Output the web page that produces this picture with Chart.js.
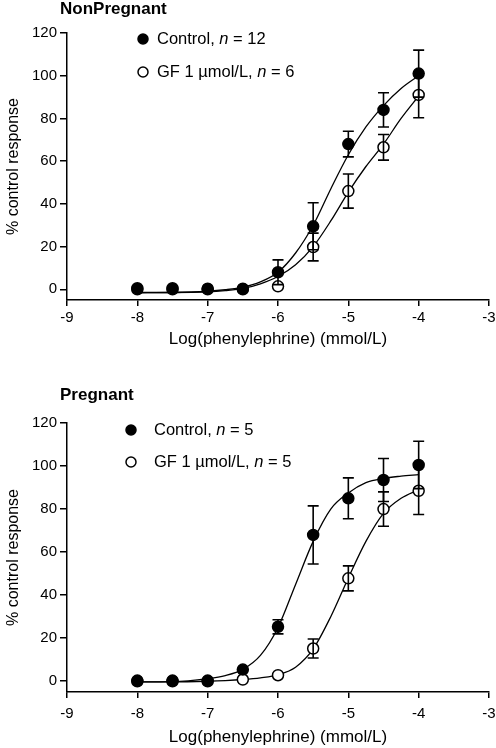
<!DOCTYPE html>
<html>
<head>
<meta charset="utf-8">
<script src="https://cdn.jsdelivr.net/npm/chart.js@4/dist/chart.umd.min.js"></script>
<style>
  body { margin: 0; background: #fff; }
  .box { position: absolute; left: 0; width: 496px; height: 374px; }
</style>
</head>
<body>
<div class="box" style="top:0"><canvas id="top" width="496" height="374"></canvas></div>
<div class="box" style="top:374px"><canvas id="bottom" width="496" height="374"></canvas></div>
<script>
const FONT = '"Liberation Sans", Arial, sans-serif'

// log [phenylephrine] at which responses were measured
const doses = [-8, -7.5, -7, -6.5, -6, -5.5, -5, -4.5, -4]
const yTicks = [0, 20, 40, 60, 80, 100, 120]

// NonPregnant
const npControl    = [0.5, 0.5, 0.3, 0.3, 8, 29.5, 68, 84, 101]
const npControlErr = [0, 0, 0, 0, 5.8, 11, 6, 8, 11]
const npGF         = [0, 0, 0, 0, 1.4, 19.8, 46, 66.5, 91]
const npGFErr      = [0, 0, 0, 0, 0, 6.5, 8, 6, 10.7]

// Pregnant
const pControl    = [0.3, 0.3, 0.3, 5.4, 25.3, 68, 85, 93.5, 100.5]
const pControlErr = [0, 0, 0, 0, 3.3, 13.5, 9.5, 10, 11]
const pGF         = [0, 0, 0, 0.8, 2.8, 15.2, 47.8, 80, 88.5]
const pGFErr      = [0, 0, 0, 0, 0, 4.4, 5.8, 8, 11]

// fitted curves
const fitX         = [-8, -7.5, -7, -6.75, -6.5, -6.25, -6, -5.75, -5.5, -5.25, -5, -4.75, -4.5, -4.25, -4]
const npControlFit = [-1.6, -1.5, -0.9, -0.2, 1, 3.5, 8, 17, 30, 47, 63, 76, 86, 94, 100]
const npGFFit      = [-1.5, -1.5, -1.2, -0.6, 0.4, 2.6, 6, 11.5, 20, 32, 45.5, 57.5, 68, 80, 90.5]
const pControlFit  = [-0.3, -0.2, 1.2, 2.6, 5.5, 12, 25, 45, 65, 80, 87.5, 92.3, 94.3, 95.3, 96]
const pGFFit       = [-0.3, -0.3, 0, 0.3, 0.8, 1.6, 3, 6.5, 15, 30, 48, 65, 78, 85, 89]

const pts = (xs, ys) => xs.map((x, i) => ({ x: x, y: ys[i] }))

const errorBars = {
  id: 'errorBars',
  afterDatasetsDraw(chart, args, opts) {
    const ctx = chart.ctx
    const xs = chart.scales.x, ys = chart.scales.y
    ctx.save()
    ctx.strokeStyle = '#000'
    ctx.lineWidth = 1.6
    for (const s of opts.sets) {
      s.vals.forEach((v, i) => {
        const e = s.err[i]
        if (!e) return
        const px = xs.getPixelForValue(doses[i])
        const hi = ys.getPixelForValue(v + e)
        const lo = ys.getPixelForValue(v - e)
        ctx.beginPath()
        ctx.moveTo(px, hi); ctx.lineTo(px, lo)
        ctx.moveTo(px - 5.5, hi); ctx.lineTo(px + 5.5, hi)
        ctx.moveTo(px - 5.5, lo); ctx.lineTo(px + 5.5, lo)
        ctx.stroke()
      })
    }
    ctx.restore()
  }
}

const labels = {
  id: 'labels',
  afterDraw(chart, args, o) {
    const ctx = chart.ctx
    ctx.save()
    ctx.fillStyle = '#000'
    ctx.textBaseline = 'middle'
    ctx.font = 'bold 17px ' + FONT
    ctx.fillText(o.title, o.titleX, o.titleY)
    o.legend.forEach(item => {
      ctx.beginPath()
      ctx.arc(o.markX, item.y, 5, 0, Math.PI * 2)
      ctx.fillStyle = item.filled ? '#000' : '#fff'
      ctx.fill()
      ctx.lineWidth = 1.5
      ctx.strokeStyle = '#000'
      ctx.stroke()
      ctx.fillStyle = '#000'
      let x = o.textX
      ctx.font = '16.5px ' + FONT
      ctx.fillText(item.pre, x, item.y)
      x += ctx.measureText(item.pre).width
      ctx.font = 'italic 16.5px ' + FONT
      ctx.fillText('n', x, item.y)
      x += ctx.measureText('n').width
      ctx.font = '16.5px ' + FONT
      ctx.fillText(' = ' + item.n, x, item.y)
    })
    ctx.restore()
  }
}

function makeChart(id, ctrl, ctrlErr, gf, gfErr, ctrlFit, gfFit, lab, padTop, padBottom, xAxisH, tickPad) {
  const marker = (data, filled) => ({
    type: 'scatter',
    data: pts(doses, data),
    pointRadius: 5.5,
    pointHoverRadius: 5.5,
    pointBackgroundColor: filled ? '#000' : '#fff',
    pointBorderColor: '#000',
    pointBorderWidth: 1.5,
    showLine: false,
    order: filled ? 0 : 1
  })
  const curve = data => ({
    type: 'line',
    data: pts(fitX, data),
    borderColor: '#000',
    borderWidth: 1.3,
    pointRadius: 0,
    cubicInterpolationMode: 'monotone',
    fill: false,
    order: 2
  })
  return new Chart(document.getElementById(id), {
    data: {
      datasets: [marker(ctrl, true), marker(gf, false), curve(ctrlFit), curve(gfFit)]
    },
    options: {
      responsive: false,
      animation: false,
      events: [],
      layout: { padding: { top: padTop, left: 0, right: 6, bottom: padBottom } },
      scales: {
        x: {
          type: 'linear',
          min: -9, max: -3,
          grid: { display: true, drawOnChartArea: false, color: '#000', tickLength: 6, lineWidth: 1.5 },
          border: { display: true, color: '#000', width: 1.5 },
          ticks: { stepSize: 1, color: '#000', font: { family: FONT, size: 15 }, padding: tickPad },
          title: { display: true, text: 'Log(phenylephrine) (mmol/L)', color: '#000', font: { family: FONT, size: 17 }, padding: { top: 0, bottom: 0 } },
          afterFit: s => { s.height = xAxisH; s.paddingLeft = 0; s.paddingRight = 0 }
        },
        y: {
          type: 'linear',
          min: -5, max: 120,
          afterBuildTicks: s => { s.ticks = yTicks.map(v => ({ value: v })) },
          grid: { display: true, drawOnChartArea: false, color: '#000', tickLength: 7, lineWidth: 1.5 },
          border: { display: true, color: '#000', width: 1.5 },
          ticks: { color: '#000', font: { family: FONT, size: 15 }, padding: 3 },
          title: { display: true, text: '% control response', color: '#000', font: { family: FONT, size: 16 }, padding: { top: 4, bottom: 0 } },
          afterFit: s => { s.width = 67 }
        }
      },
      plugins: {
        legend: { display: false },
        tooltip: { enabled: false },
        errorBars: { sets: [{ vals: gf, err: gfErr }, { vals: ctrl, err: ctrlErr }] },
        labels: lab
      }
    },
    plugins: [errorBars, labels]
  })
}

makeChart('top', npControl, npControlErr, npGF, npGFErr, npControlFit, npGFFit, {
  title: 'NonPregnant', titleX: 60, titleY: 9,
  markX: 143, textX: 157,
  legend: [
    { filled: true, pre: 'Control, ', n: 12, y: 39 },
    { filled: false, pre: 'GF 1 \u00b5mol/L, ', n: 6, y: 72 }
  ]
}, 33, 24, 50, 3)

makeChart('bottom', pControl, pControlErr, pGF, pGFErr, pControlFit, pGFFit, {
  title: 'Pregnant', titleX: 60, titleY: 21,
  markX: 131, textX: 154,
  legend: [
    { filled: true, pre: 'Control, ', n: 5, y: 56 },
    { filled: false, pre: 'GF 1 \u00b5mol/L, ', n: 5, y: 88 }
  ]
}, 49, 0, 56, 7)
</script>
</body>
</html>
